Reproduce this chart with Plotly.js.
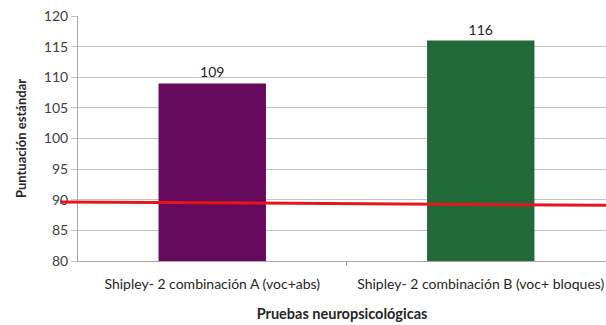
<!DOCTYPE html>
<html>
<head>
<meta charset="utf-8">
<script src="https://cdn.plot.ly/plotly-3.0.1.min.js"></script>
<style>
  html, body { margin: 0; padding: 0; background: #ffffff; }
  #chart { width: 606px; height: 325px; }
</style>
</head>
<body>
<div id="chart"></div>
<script>
// Test names, standard scores and bar colours
const categories = [
  'Shipley- 2 combinación A (voc+abs)',
  'Shipley- 2 combinación B (voc+ bloques)'
];
const scores = [109, 116];
const barColors = ['#660a5e', '#216a37'];

// Reference line (average score), left and right ends
const refLine = [89.65, 89.1];

const yTicks = [80, 85, 90, 95, 100, 105, 110, 115, 120];

const font = "Lato, 'Open Sans', 'Liberation Sans', sans-serif";

const trace = {
  type: 'bar',
  x: categories,
  y: scores,
  base: 0,
  width: 0.4,
  marker: { color: barColors, line: { width: 0 } },
  text: scores.map(String),
  textposition: 'outside',
  textfont: { family: font, size: 14, color: '#262626' },
  cliponaxis: false,
  hoverinfo: 'x+y'
};

const layout = {
  width: 606,
  height: 325,
  margin: { l: 78, r: 0, t: 16, b: 64 },
  paper_bgcolor: '#ffffff',
  plot_bgcolor: '#ffffff',
  showlegend: false,
  bargap: 0.6,
  xaxis: {
    type: 'category',
    range: [-0.5, 1.4665],
    showgrid: false,
    showline: true,
    linecolor: '#a6a6a6',
    linewidth: 1,
    ticks: '',
    ticklabelstandoff: 10,
    tickfont: { family: font, size: 14, color: '#262626' },
    title: {
      text: '<b>Pruebas neuropsicológicas</b>',
      font: { family: font, size: 14.5, color: '#262626' },
      standoff: 18
    },
    fixedrange: true
  },
  yaxis: {
    range: [80, 120],
    tickvals: yTicks,
    ticktext: yTicks.map(String),
    showgrid: true,
    gridcolor: '#c4c4c4',
    gridwidth: 1,
    showline: true,
    linecolor: '#a6a6a6',
    linewidth: 1,
    ticks: 'outside',
    ticklen: 6,
    tickcolor: '#c4c4c4',
    tickfont: { family: font, size: 14, color: '#404040' },
    title: {
      text: '<b>Puntuación estándar</b>',
      font: { family: font, size: 13, color: '#262626' },
      standoff: 14
    },
    zeroline: false,
    fixedrange: true
  },
  shapes: [
    // Middle tick between the two categories
    {
      type: 'line', xref: 'x', yref: 'paper',
      x0: 0.5, x1: 0.5, y0: 0, y1: -0.02,
      line: { color: '#a6a6a6', width: 1 }
    },
    // Reference score line
    {
      type: 'line', xref: 'paper', yref: 'y',
      x0: -0.034, x1: 1, y0: refLine[0], y1: refLine[1],
      line: { color: '#e8141c', width: 3 },
      layer: 'above'
    }
  ]
};

Plotly.newPlot('chart', [trace], layout, { displayModeBar: false, staticPlot: true });
</script>
</body>
</html>
